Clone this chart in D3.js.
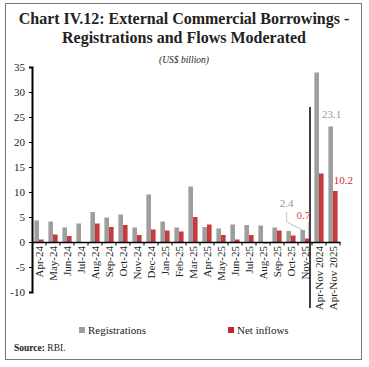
<html>

<head>
    <meta charset="utf-8">
    <script src="https://cdnjs.cloudflare.com/ajax/libs/d3/7.1.1/d3.js"></script>
    <style>
        body { margin: 0; background: #fff; }
    </style>
</head>

<body>
    <script>
        const categories = ['Apr-24', 'May-24', 'Jun-24', 'Jul-24', 'Aug-24', 'Sep-24', 'Oct-24', 'Nov-24',
            'Dec-24', 'Jan-25', 'Feb-25', 'Mar-25', 'Apr-25', 'May-25', 'Jun-25', 'Jul-25', 'Aug-25',
            'Sep-25', 'Oct-25', 'Nov-25', 'Apr-Nov 2024', 'Apr-Nov 2025'];
        const registrations = [4.3, 4.1, 2.9, 3.7, 6.0, 4.9, 5.5, 2.9, 9.5, 4.1, 2.9, 11.1,
            3.0, 2.7, 3.5, 3.4, 3.3, 2.9, 2.2, 2.4, 33.9, 23.1];
        const netInflows = [0.5, 1.5, 1.2, -0.1, 3.7, 3.0, 3.4, 1.4, 2.5, 2.3, 2.1, 5.0,
            3.5, 1.4, 0.5, 1.4, -0.3, 2.3, 1.3, 0.7, 13.7, 10.2];
        const yTicks = [-10, -5, 0, 5, 10, 15, 20, 25, 30, 35];
        const seriesNames = ['Registrations', 'Net inflows'];

        const grey = '#9e9e9f';
        const red = '#c73a3d';
        const serif = '"Liberation Serif", "DejaVu Serif", serif';

        const svg = d3.select('body').append('svg')
            .attr('width', 369)
            .attr('height', 367);

        // frame
        svg.append('rect')
            .attr('x', 5.5).attr('y', 3.5)
            .attr('width', 356).attr('height', 356)
            .style('fill', 'none')
            .style('stroke', '#777')
            .style('stroke-width', 1);

        // title
        svg.append('text')
            .attr('x', 184).attr('y', 24)
            .attr('text-anchor', 'middle')
            .attr('font-family', serif).attr('font-weight', 'bold').attr('font-size', 16)
            .style('fill', '#222')
            .text('Chart IV.12: External Commercial Borrowings -');
        svg.append('text')
            .attr('x', 184).attr('y', 43)
            .attr('text-anchor', 'middle')
            .attr('font-family', serif).attr('font-weight', 'bold').attr('font-size', 16)
            .style('fill', '#222')
            .text('Registrations and Flows Moderated');
        svg.append('text')
            .attr('x', 184).attr('y', 63)
            .attr('text-anchor', 'middle')
            .attr('font-family', serif).attr('font-style', 'italic').attr('font-size', 9.5)
            .style('fill', '#222')
            .text('(US$ billion)');

        const x = d3.scaleBand().domain(categories).range([32, 340]);
        const y = d3.scaleLinear().domain([-10, 35]).range([292, 67]);
        const sub = d3.scaleBand().domain(seriesNames).range([0, 9.2]);
        const off = (x.bandwidth() - 9.2) / 2;

        const g = svg.append('g');

        // bars
        const rows = categories.map((c, i) => ({ c, values: [registrations[i], netInflows[i]] }));
        const group = g.selectAll('.grp')
            .data(rows)
            .enter().append('g')
            .attr('transform', d => `translate(${x(d.c) + off},0)`);
        group.selectAll('rect')
            .data(d => d.values.map((v, k) => ({ v, k })))
            .enter().append('rect')
            .attr('x', d => sub(seriesNames[d.k]))
            .attr('width', sub.bandwidth())
            .attr('y', d => y(Math.max(0, d.v)))
            .attr('height', d => Math.abs(y(d.v) - y(0)))
            .style('fill', d => d.k === 0 ? grey : red);

        // y axis
        const yAxis = g.append('g')
            .attr('transform', 'translate(32,0)')
            .call(d3.axisLeft(y).tickValues(yTicks).tickSize(3).tickPadding(4).tickFormat(d => String(d)));
        yAxis.select('.domain').style('stroke-width', 2);
        yAxis.selectAll('text')
            .attr('font-family', serif).attr('font-size', 11).style('fill', '#222');

        // x axis at zero
        const xAxis = g.append('g')
            .attr('transform', `translate(0,${y(0)})`)
            .call(d3.axisBottom(x).tickSize(0).tickFormat(''));
        xAxis.select('.domain').style('stroke-width', 1.5);
        g.selectAll('.xtick')
            .data(categories.slice(1).concat(['end']))
            .enter().append('line')
            .attr('x1', (d, i) => 32 + x.step() * (i + 1))
            .attr('x2', (d, i) => 32 + x.step() * (i + 1))
            .attr('y1', y(0)).attr('y2', y(0) + 3.5)
            .style('stroke', '#000').style('stroke-width', 1);

        g.selectAll('.xlabel')
            .data(categories)
            .enter().append('text')
            .attr('transform', d => `translate(${x(d) + x.bandwidth() / 2 + 4},${y(0) + 4}) rotate(-90)`)
            .attr('text-anchor', 'end')
            .attr('font-family', serif).attr('font-size', 11)
            .style('fill', '#222')
            .text(d => d);

        // separator between monthly and cumulative
        const sepX = x('Apr-Nov 2024') - 2;
        g.append('line')
            .attr('x1', sepX).attr('x2', sepX)
            .attr('y1', y(27)).attr('y2', y(-13.2))
            .style('stroke', '#000').style('stroke-width', 1.5);

        // data labels
        const barX = (c, k) => x(c) + off + sub(seriesNames[k]) + sub.bandwidth() / 2;
        const nov = 'Nov-25';
        g.append('path')
            .attr('d', `M${barX(nov, 0) - 16},${y(6)}V${y(4)}L${barX(nov, 0)},${y(registrations[19])}`)
            .style('fill', 'none').style('stroke', '#c4c4c4').style('stroke-width', 1);
        g.append('path')
            .attr('d', `M${barX(nov, 1) + 1},${y(4)}V${y(netInflows[19])}`)
            .style('fill', 'none').style('stroke', '#c4c4c4').style('stroke-width', 1);

        const labels = [
            { t: registrations[19].toFixed(1), px: barX(nov, 0) - 16, py: y(7), c: '#8c98a8' },
            { t: netInflows[19].toFixed(1), px: barX(nov, 1) - 4, py: y(4.6), c: '#e0474c' },
            { t: registrations[21].toFixed(1), px: barX('Apr-Nov 2025', 0) + 1, py: y(24.8), c: '#9a9a9a' },
            { t: netInflows[21].toFixed(1), px: barX('Apr-Nov 2025', 1) + 8, py: y(11.6), c: '#d0282d' }
        ];
        g.selectAll('.dlabel')
            .data(labels)
            .enter().append('text')
            .attr('x', d => d.px).attr('y', d => d.py)
            .attr('text-anchor', 'middle')
            .attr('font-family', serif).attr('font-size', 11)
            .style('fill', d => d.c)
            .text(d => d.t);

        // legend
        const legend = svg.append('g');
        const legX = [79, 228];
        seriesNames.forEach((name, k) => {
            legend.append('rect')
                .attr('x', legX[k]).attr('y', 327)
                .attr('width', 6).attr('height', 6)
                .style('fill', k === 0 ? grey : '#c1272d');
            legend.append('text')
                .attr('x', legX[k] + 9).attr('y', 333.5)
                .attr('font-family', serif).attr('font-size', 11)
                .style('fill', '#222')
                .text(name);
        });

        // source
        const src = svg.append('text')
            .attr('x', 14).attr('y', 351)
            .attr('font-family', serif).attr('font-size', 9.5)
            .style('fill', '#222');
        src.append('tspan').attr('font-weight', 'bold').text('Source: ');
        src.append('tspan').text('RBI.');
    </script>
</body>

</html>
